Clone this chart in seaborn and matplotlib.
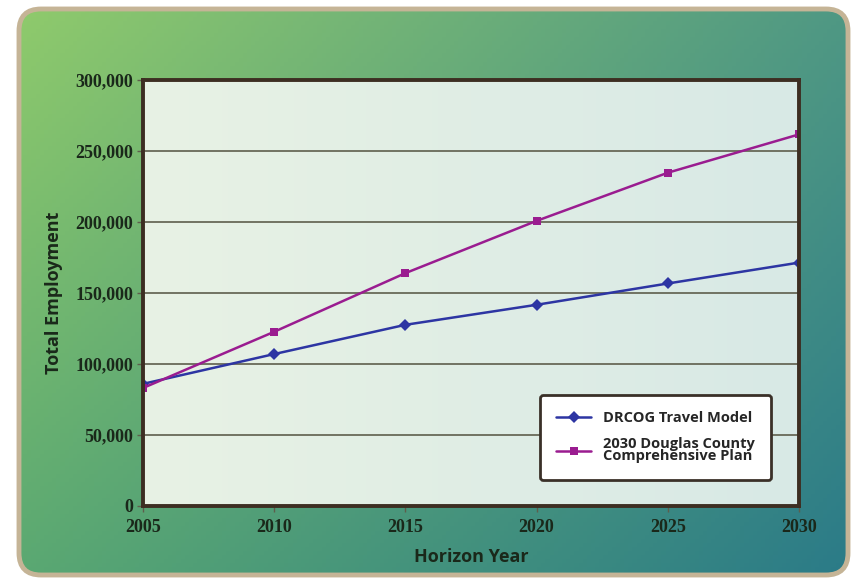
import numpy as np
import pandas as pd
import matplotlib.pyplot as plt
import seaborn as sns
from matplotlib.patches import FancyBboxPatch
from matplotlib.colors import to_rgb
from matplotlib.ticker import FuncFormatter

years = [2005, 2010, 2015, 2020, 2025, 2030]
drcog = [86000, 107000, 127600, 141700, 156700, 171400]
douglas = [83100, 122700, 164000, 200800, 234700, 261700]
series_names = ["DRCOG Travel Model", "2030 Douglas County\nComprehensive Plan"]
y_ticks = [0, 50000, 100000, 150000, 200000, 250000, 300000]

df = pd.DataFrame({
    "Horizon Year": years * 2,
    "Total Employment": drcog + douglas,
    "Series": [series_names[0]] * len(years) + [series_names[1]] * len(years),
})

sns.set_theme(style="white")
plt.rcParams["font.family"] = ["Liberation Serif", "DejaVu Serif"]
sans = ["Open Sans", "DejaVu Sans"]

fig = plt.figure(figsize=(8.51, 5.79), dpi=100)

# background panel, diagonal green -> teal gradient with tan rim
bg = fig.add_axes([0, 0, 1, 1], zorder=-5)
bg.set_xlim(0, 851)
bg.set_ylim(579, 0)
bg.axis("off")
tl, tr = np.array(to_rgb("#8fca6c")), np.array(to_rgb("#4f9884"))
bl, br = np.array(to_rgb("#5aa872")), np.array(to_rgb("#2b7b88"))
u = np.linspace(0, 1, 200)[None, :, None]
v = np.linspace(0, 1, 140)[:, None, None]
grad = (1 - v) * ((1 - u) * tl + u * tr) + v * ((1 - u) * bl + u * br)
panel = FancyBboxPatch((19, 9), 829, 566, boxstyle="round,pad=0,rounding_size=22",
                       facecolor="none", edgecolor="#c5b496", linewidth=3.5, zorder=3)
bg.add_patch(panel)
im = bg.imshow(grad, extent=[19, 848, 575, 9], aspect="auto", zorder=1)
im.set_clip_path(panel)

ax = fig.add_axes([143 / 851, 1 - 506 / 579, 656 / 851, 426 / 579])
inner = np.linspace(0, 1, 100)[None, :, None]
c0, c1 = np.array(to_rgb("#e8f2e4")), np.array(to_rgb("#d8e9e6"))
ax.imshow((1 - inner) * c0 + inner * c1, extent=[0, 1, 0, 1], transform=ax.transAxes,
          aspect="auto", zorder=0)

sns.lineplot(data=df, x="Horizon Year", y="Total Employment", hue="Series", style="Series",
             markers={series_names[0]: "D", series_names[1]: "s"}, dashes=False,
             palette={series_names[0]: "#2d35a3", series_names[1]: "#9a1c90"},
             linewidth=1.8, markersize=6, markeredgewidth=0, ax=ax, zorder=4)

ax.set_xlim(2005, 2030)
ax.set_ylim(0, 300000)
ax.set_xticks(years)
ax.set_yticks(y_ticks)
ax.yaxis.set_major_formatter(FuncFormatter(lambda val, pos: f"{int(val):,}"))
ax.yaxis.grid(True, color="#5e5e4c", linewidth=1.2)
ax.xaxis.grid(False)
ax.tick_params(axis="both", which="major", length=4, width=1, color="#5e5e4c",
               labelsize=13, labelcolor="#1a281a", pad=3, left=True, bottom=True)
ax.tick_params(axis="x", pad=5)
for lab in ax.get_xticklabels() + ax.get_yticklabels():
    lab.set_fontweight("bold")
for sp in ax.spines.values():
    sp.set_color("#3d2e22")
    sp.set_linewidth(2.8)
    sp.set_zorder(5)

ax.set_xlabel("Horizon Year", fontsize=13, fontweight="bold", color="#1a281a",
              family=sans, labelpad=9)
ax.set_ylabel("Total Employment", fontsize=13, fontweight="bold", color="#1a281a",
              family=sans, labelpad=9)

leg = ax.legend(loc="lower right", bbox_to_anchor=(0.968, 0.045), frameon=True, fancybox=True,
                facecolor="white", edgecolor="#3a3028", framealpha=1, handlelength=2.4,
                borderpad=1.1, labelspacing=0.8,
                prop={"family": sans, "weight": "bold", "size": 10.5})
leg.get_frame().set_linewidth(2)
for t in leg.get_texts():
    t.set_linespacing(0.85)

fig.savefig("out.png", dpi=100)
